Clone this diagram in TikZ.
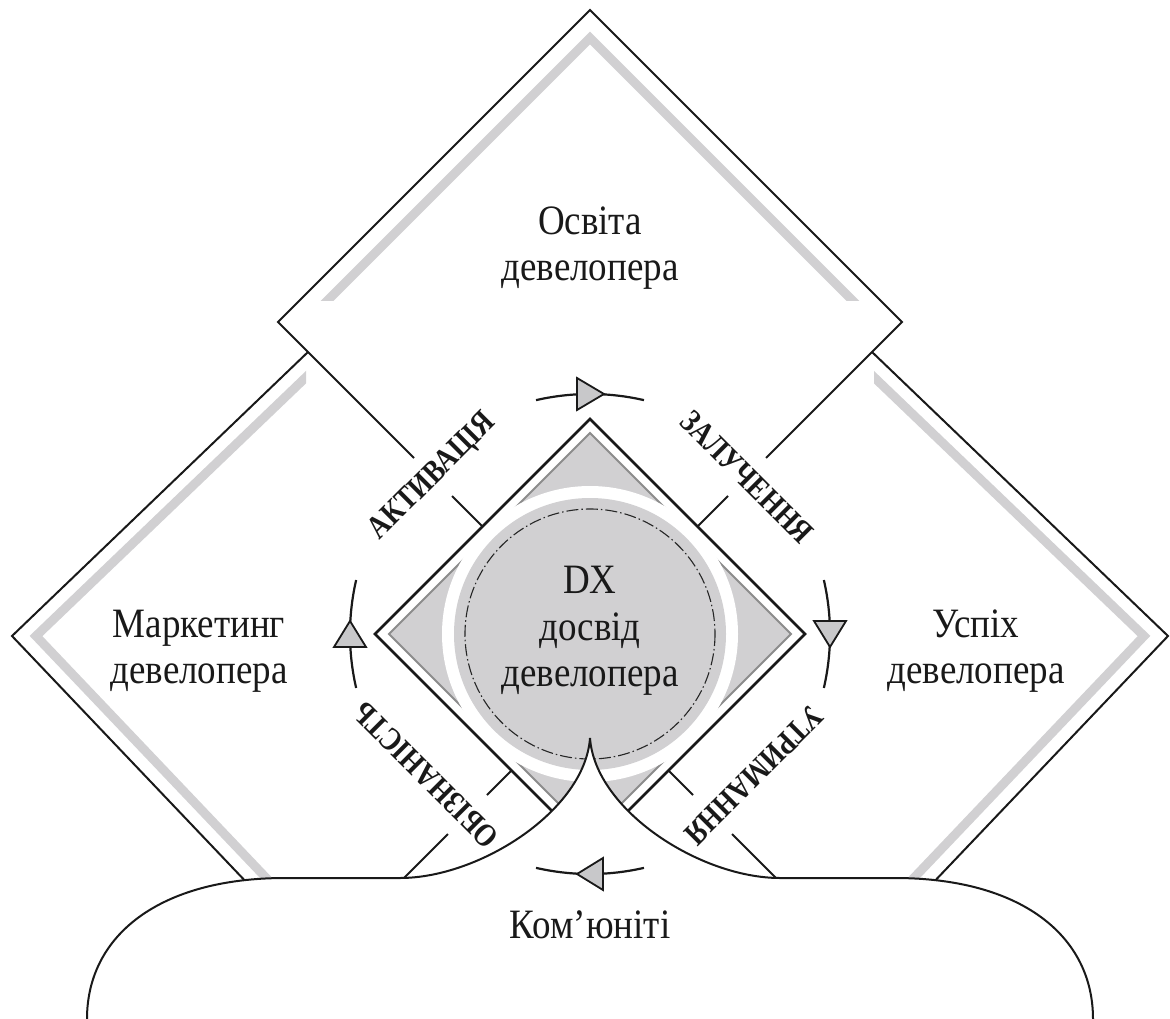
\documentclass[tikz,border=0pt]{standalone}
\usepackage{fontspec}
\setmainfont{Liberation Serif}
\definecolor{panelgray}{RGB}{209,208,210}
\definecolor{rimgray}{RGB}{140,140,140}
\definecolor{tipgray}{RGB}{200,200,202}
\begin{document}
\begin{tikzpicture}[x=1pt,y=-1pt,line join=miter,
  edge/.style={line width=2pt,draw=black!90},
  band/.style={line width=9pt,draw=panelgray},
  cyc/.style={line width=2.2pt,draw=black!90},
  tri/.style={line width=1.8pt,draw=black!90,fill=tipgray},
  bigtext/.style={font=\fontsize{37}{41}\selectfont,align=center,text=black!90,yscale=1.13},
  stage/.style={font=\fontsize{27}{30}\selectfont\bfseries,text=black!90,inner sep=0pt}]
\useasboundingbox (0,0) rectangle (1170,1019);
\clip (0,0) rectangle (1170,1019);
\coordinate (C) at (590,634);

% light inner bands of the three panels
\begin{scope}
  \clip (0,0) rectangle (1170,300);
  \draw[band] (308,320) -- (590,38) -- (872,320);
\end{scope}
\begin{scope}
  \clip (0,0) rectangle (306,1019);
  \draw[band] (326,358) -- (36,636) -- (290,903);
\end{scope}
\begin{scope}
  \clip (874,0) rectangle (1170,1019);
  \draw[band] (854,358) -- (1144,636) -- (890,903);
\end{scope}

% panel outlines
\draw[edge] (414,458) -- (278,322) -- (590,10) -- (902,322) -- (766,458);
\draw[edge] (452,496) -- (482.5,526.5);
\draw[edge] (728,496) -- (697.5,526.5);
\draw[edge] (308,352) -- (12,636) -- (270,907);
\draw[edge] (872,352) -- (1168,636) -- (910,907);
\draw[edge] (511.5,770.5) -- (487,795);
\draw[edge] (448,834) -- (390,892);
\draw[edge] (668.5,770.5) -- (693,795);
\draw[edge] (732,834) -- (790,892);

% central diamond and core
\draw[line width=2.5pt,draw=black!90,fill=white] (590,419) -- (805,634) -- (590,849) -- (375,634) -- cycle;
\draw[line width=2pt,draw=rimgray,fill=panelgray] (590,433) -- (791,634) -- (590,835) -- (389,634) -- cycle;
\fill[white] (C) circle[radius=148];
\fill[panelgray] (C) circle[radius=136];
\draw[line width=1.1pt,draw=black!85,dash pattern=on 12pt off 3pt on 1.5pt off 3pt] (C) circle[radius=125];
\node[bigtext] (dx) at (590,631) {DX\\досвід\\девелопера};

% community shape
\path[fill=white] (87,1040) -- (87,1019) .. controls (87,935) and (160,878) .. (285,878) -- (400,878)
  .. controls (480,878) and (585,810) .. (590,738) .. controls (595,810) and (700,878) .. (780,878)
  -- (895,878) .. controls (1020,878) and (1093,935) .. (1093,1019) -- (1093,1040) -- cycle;
\draw[edge] (87,1019) .. controls (87,935) and (160,878) .. (285,878) -- (400,878)
  .. controls (480,878) and (585,810) .. (590,738) .. controls (595,810) and (700,878) .. (780,878)
  -- (895,878) .. controls (1020,878) and (1093,935) .. (1093,1019);

% cycle arcs with arrow triangles
\draw[cyc] (C) ++(257:240) arc[start angle=257,end angle=283,radius=240];
\draw[cyc] (C) ++(-13:240) arc[start angle=-13,end angle=13,radius=240];
\draw[cyc] (C) ++(77:240) arc[start angle=77,end angle=103,radius=240];
\draw[cyc] (C) ++(167:240) arc[start angle=167,end angle=193,radius=240];
\draw[tri] (577,378) -- (604,394) -- (577,410) -- cycle;
\draw[tri] (814,621) -- (846,621) -- (830,647) -- cycle;
\draw[tri] (603,858) -- (603,890) -- (577,874) -- cycle;
\draw[tri] (334,647) -- (366,647) -- (350,621) -- cycle;

% stage labels
\node[stage,rotate=45,yscale=1.2] (act) at (433,477) {АКТИВАЦІЯ};
\node[stage,rotate=-45,yscale=1.2] (eng) at (747,477) {ЗАЛУЧЕННЯ};
\node[stage,rotate=135,yscale=1.2] (awa) at (426,775) {ОБІЗНАНІСТЬ};
\node[stage,rotate=-135,yscale=1.2] (ret) at (754,775) {УТРИМАННЯ};

% panel titles
\node[bigtext] (edu) at (590,248) {Освіта\\девелопера};
\node[bigtext] (mkt) at (199,651) {Маркетинг\\девелопера};
\node[bigtext] (suc) at (976,651) {Успіх\\девелопера};
\node[bigtext] (com) at (590,925) {Ком’юніті};
\end{tikzpicture}
\end{document}
